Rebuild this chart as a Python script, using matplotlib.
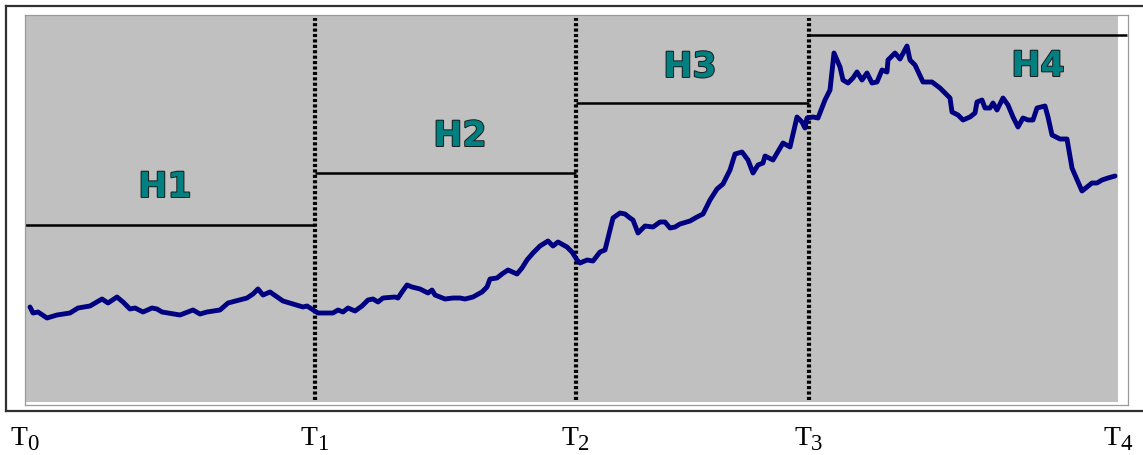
import matplotlib
matplotlib.use("Agg")
import matplotlib.pyplot as plt
import matplotlib.patheffects as pe
from matplotlib.patches import Rectangle
from matplotlib.lines import Line2D

# ---------------- data ----------------
time = [5, 8, 13, 22, 32, 45, 53, 65, 77, 83, 92, 98, 105, 110, 118, 127, 132, 137,
        155, 168, 175, 182, 195, 203, 222, 228, 233, 238, 245, 258, 268, 278, 282,
        293, 308, 313, 318, 323, 330, 337, 343, 348, 353, 358, 370, 373, 377, 382,
        387, 395, 403, 407, 410, 420, 428, 435, 440, 448, 457, 462, 465, 472, 477,
        483, 492, 497, 502, 508, 515, 523, 528, 533, 542, 547, 552, 555, 562, 568,
        575, 580, 588, 595, 600, 605, 608, 613, 620, 628, 635, 640, 645, 650, 655,
        665, 672, 678, 685, 692, 698, 705, 710, 717, 723, 728, 733, 738, 740, 748,
        758, 765, 772, 777, 780, 782, 788, 793, 800, 805, 809, 815, 818, 823, 828,
        832, 837, 842, 847, 852, 857, 862, 863, 870, 875, 882, 885, 890, 898, 907,
        915, 925, 927, 933, 938, 945, 950, 952, 957, 960, 965, 968, 972, 978, 983,
        988, 993, 998, 1003, 1008, 1012, 1020, 1023, 1027, 1035, 1042, 1047, 1050,
        1057, 1067, 1072, 1077, 1083, 1090]
price = [95, 89, 90, 84, 87, 89, 94, 96, 103, 99, 105, 100, 93, 94, 90, 94, 93, 90,
         87, 92, 88, 90, 92, 99, 104, 108, 113, 107, 110, 101, 98, 95, 96,
         89, 89, 92, 90, 94, 91, 96, 102, 103, 100, 104, 105, 104, 110, 117,
         115, 113, 109, 112, 107, 103, 104, 104, 103, 105, 110, 115, 123, 124, 128,
         132, 128, 134, 142, 149, 156, 161, 156, 160, 155, 150, 142, 139, 142, 141,
         150, 152, 184, 189, 188, 184, 182, 169, 176, 175, 180, 180, 174, 175, 178,
         181, 185, 188, 202, 213, 218, 232, 248, 250, 242, 229, 237, 239, 246, 242,
         259, 255, 285, 280, 274, 284, 285, 284, 302, 312, 349, 335, 322, 319, 324,
         330, 322, 329, 319, 320, 332, 330, 342, 349, 343, 356, 342, 337, 320, 320,
         314, 304, 290, 287, 282, 285, 289, 300, 302, 294, 294, 299, 292, 304, 297,
         285, 275, 284, 282, 282, 294, 296, 285, 267, 263, 263, 234, 227,
         211, 219, 219, 222, 224, 226]

breaks = [0, 290, 551, 784, 1093]
break_labels = ["0", "1", "2", "3", "4"]
levels = [177, 229, 299, 367]
level_names = ["H1", "H2", "H3", "H4"]
name_x = [140, 435, 665, 1013]
name_y = [215, 266, 335, 336]

# ---------------- figure ----------------
W, H = 1143, 455
fig = plt.figure(figsize=(W / 100, H / 100), dpi=100)
fig.patch.set_facecolor("white")

# outer dark frame (open on the right)
frame_kw = dict(color="#303030", lw=1.6, transform=fig.transFigure)
fig.add_artist(Line2D([6 / W, 1.0], [1 - 6 / H, 1 - 6 / H], **frame_kw))
fig.add_artist(Line2D([6 / W, 6 / W], [1 - 6 / H, 1 - 411 / H], **frame_kw))
fig.add_artist(Line2D([6 / W, 1.0], [1 - 411 / H, 1 - 411 / H], **frame_kw))

ax = fig.add_axes([25 / W, 50 / H, (1128 - 25) / W, (405 - 15) / H])
ax.set_facecolor("white")
ax.set_xlim(0, 1103)
ax.set_ylim(-3, 387)
ax.set_xticks([])
ax.set_yticks([])
for s in ax.spines.values():
    s.set_color("#9a9a9a")
    s.set_linewidth(0.9)

# gray plot area
ax.add_patch(Rectangle((breaks[0], 0), breaks[-1] - breaks[0], 386,
                       facecolor="#c0c0c0", edgecolor="none", zorder=0))

# dotted period separators
for b in breaks[1:-1]:
    ax.plot([b, b], [2, 384], color="black", lw=3.0,
            linestyle=(0, (0.75, 0.55)), dash_capstyle="butt", zorder=2)

# horizontal levels
for i, lv in enumerate(levels):
    x0 = breaks[i]
    x1 = breaks[i + 1] if i < len(levels) - 1 else ax.get_xlim()[1] - 1
    ax.plot([x0, x1], [lv, lv], color="black", lw=1.8, solid_capstyle="butt", zorder=2)

# level names
for nm, xx, yy in zip(level_names, name_x, name_y):
    ax.text(xx, yy, nm, ha="center", va="center", fontsize=25,
            fontweight="bold", family="DejaVu Sans", color="#008080", zorder=4,
            path_effects=[pe.withStroke(linewidth=1.4, foreground="#1a1a1a")])

# price path
ax.plot(time, price, color="#000080", lw=3.5, solid_joinstyle="round",
        solid_capstyle="round", zorder=3)

# time labels T0..T4
for b, lab in zip(breaks, break_labels):
    ax.annotate("T", xy=(b, 0), xycoords=("data", "axes fraction"),
                xytext=(1.5, -29), textcoords="offset points",
                ha="right", va="baseline", fontsize=20,
                family="Liberation Serif", color="black", annotation_clip=False)
    ax.annotate(lab, xy=(b, 0), xycoords=("data", "axes fraction"),
                xytext=(1.5, -32.5), textcoords="offset points",
                ha="left", va="baseline", fontsize=16.5,
                family="Liberation Serif", color="black", annotation_clip=False)

fig.savefig("out.png", dpi=100, facecolor="white")
